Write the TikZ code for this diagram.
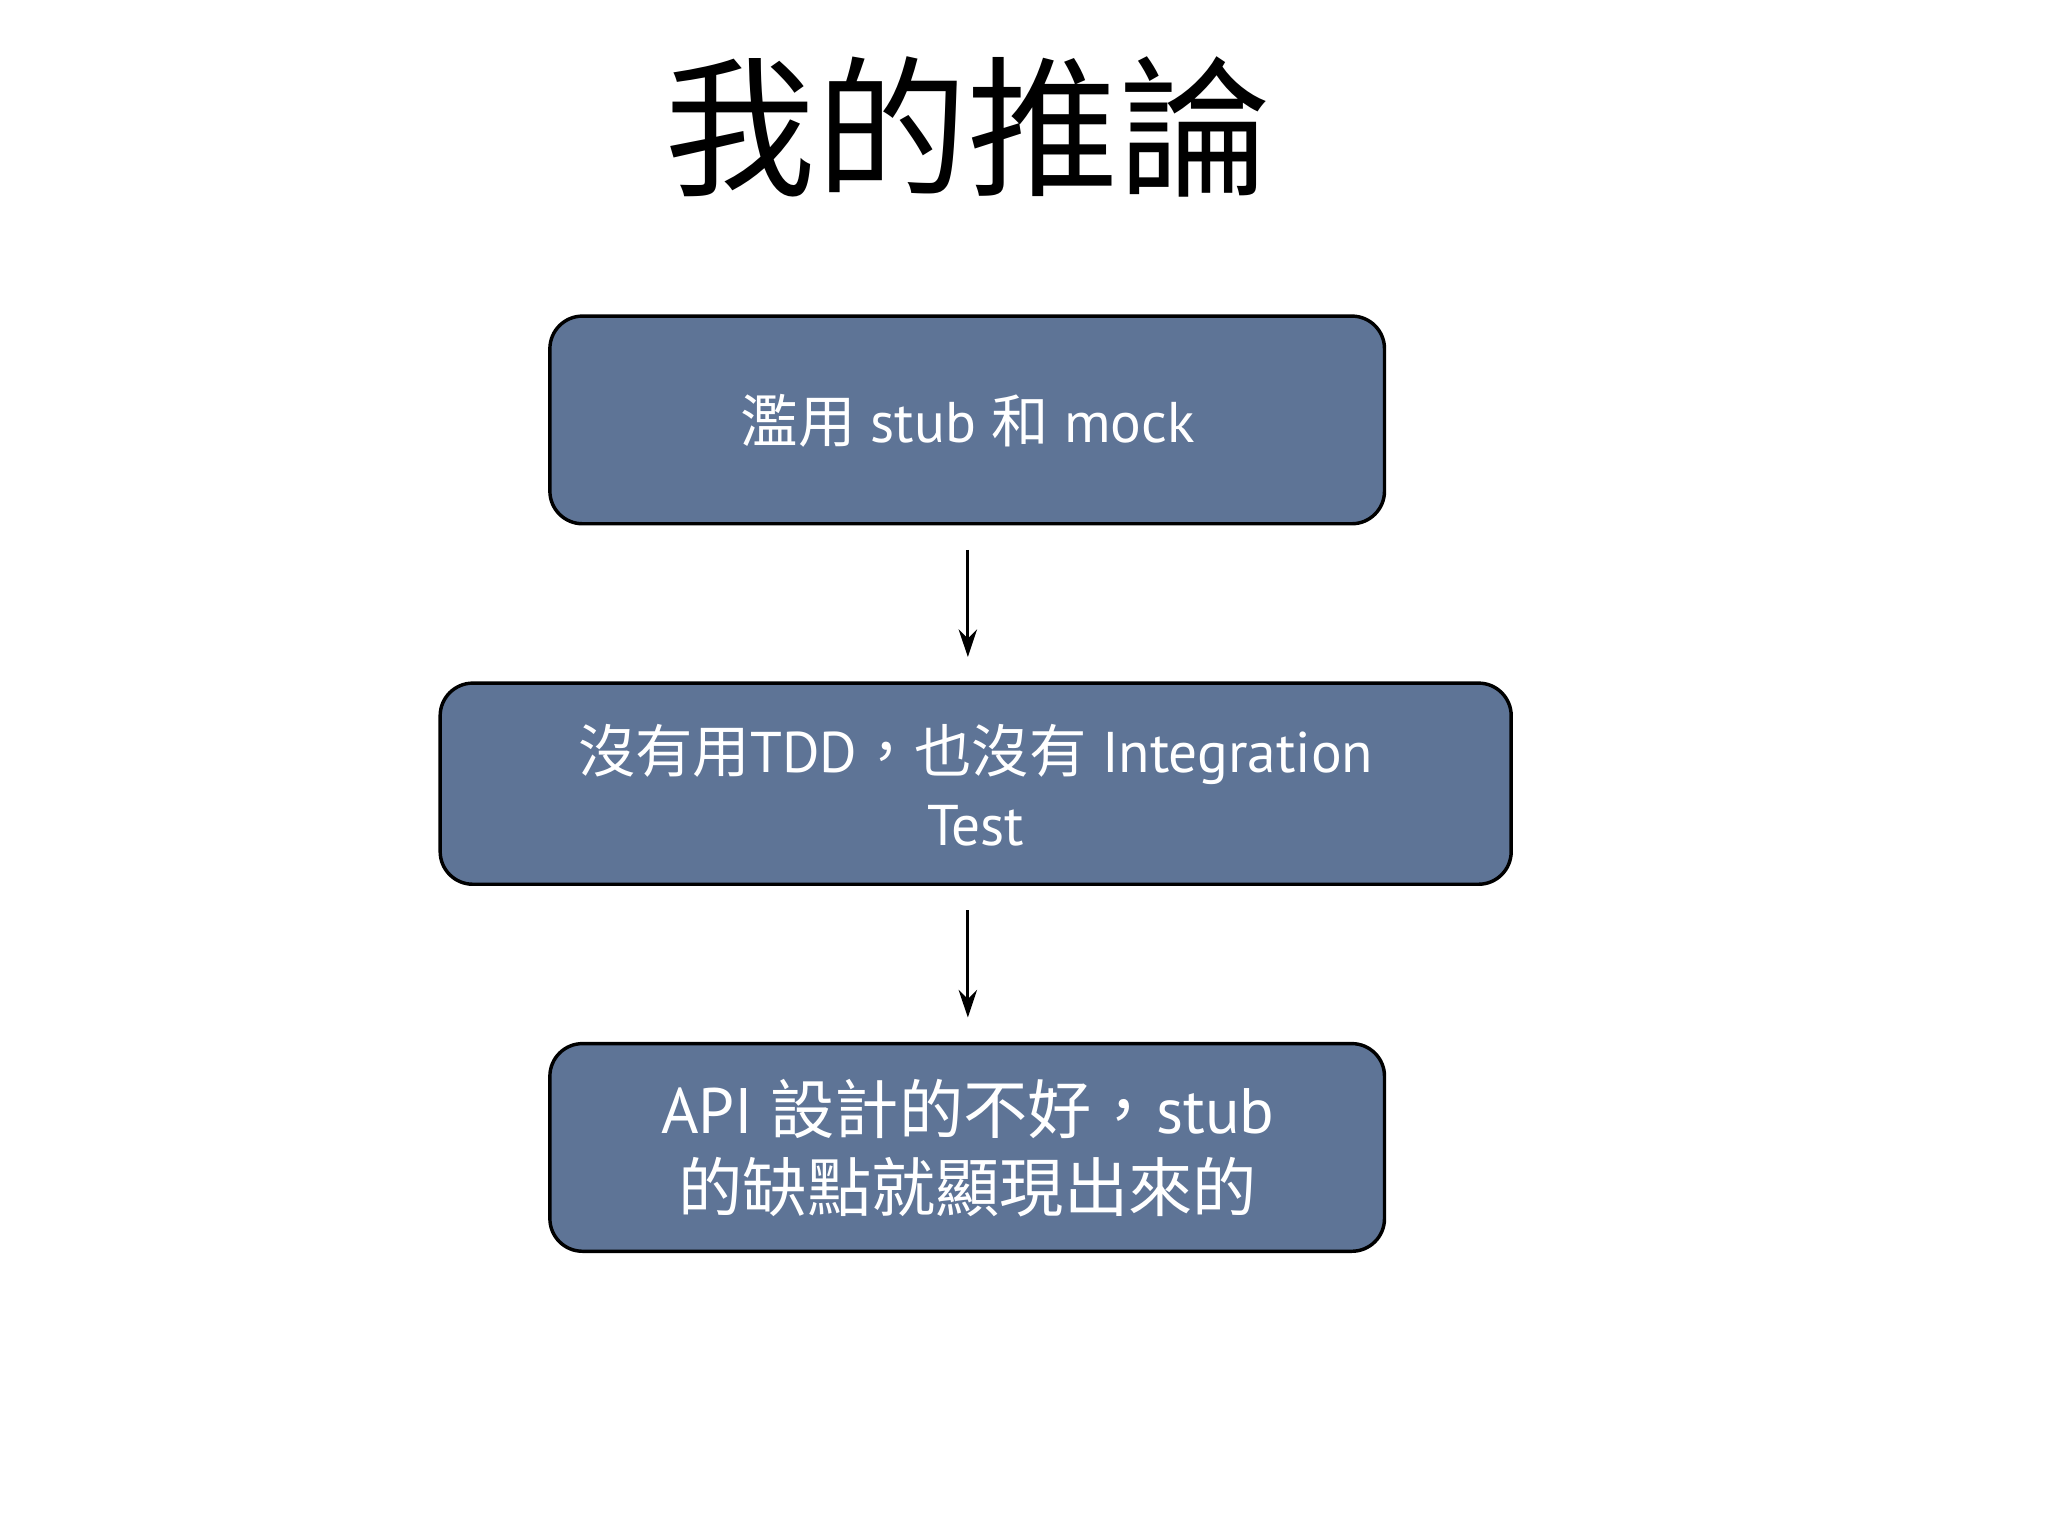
\documentclass[tikz,border=0pt]{standalone}
\usepackage{fontspec}
\setmainfont{PT Sans}
\newfontfamily\cjk{Noto Sans CJK TC}
\usetikzlibrary{arrows.meta}
\definecolor{boxc}{HTML}{5E7496}
\begin{document}
\begin{tikzpicture}[x=0.02cm,y=-0.02cm,
  box/.style={draw=black,line width=1.5pt,fill=boxc,rounded corners=0.5cm},
  txt/.style={text=white,font=\fontsize{25}{32}\selectfont,align=center},
  arr/.style={-{Stealth[length=12pt,width=8pt]},line width=1.4pt}]
\useasboundingbox (0,0) rectangle (1568,1176);
\node (title) at (741,97) {\fontsize{66}{70}\selectfont\cjk 我的推論};
\draw[box] (421,242) rectangle (1060,401);
\draw[box] (337,523) rectangle (1157,677);
\draw[box] (421,799) rectangle (1060,958);
\node[txt] (b1) at (741,322) {{\cjk 濫用} stub {\cjk 和} mock};
\node[txt] (b2) at (747,601) {{\cjk 沒有用}TDD{\cjk ，也沒有} Integration\\Test};
\node[txt,font=\fontsize{28}{34}\selectfont] (b3) at (741,879) {API {\cjk 設計的不好，}stub\\{\cjk 的缺點就顯現出來的}};
\coordinate (a1s) at (741,421); \coordinate (a1e) at (741,503);
\coordinate (a2s) at (741,697); \coordinate (a2e) at (741,779);
\draw[arr] (a1s) -- (a1e);
\draw[arr] (a2s) -- (a2e);
\end{tikzpicture}
\end{document}
